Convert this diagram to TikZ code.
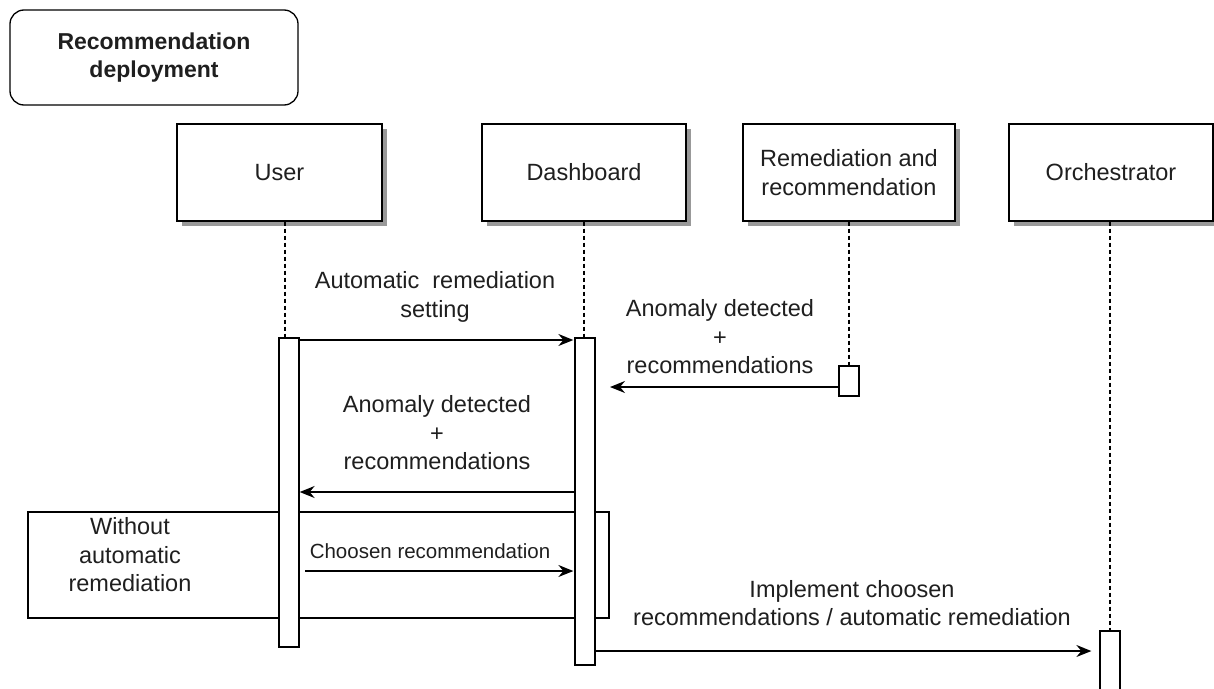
\documentclass[tikz,border=0pt]{standalone}
\usepackage{fontspec}
\setmainfont{Liberation Sans}
\usetikzlibrary{arrows.meta}
\begin{document}
\begin{tikzpicture}[x=1pt,y=-1pt,
  every node/.style={font=\fontsize{23.5}{28.5}\selectfont, text=black!88, inner sep=0pt},
  titlebox/.style={draw, line width=1.3pt, rounded corners=14pt, minimum width=288pt, minimum height=95pt, align=center, font=\bfseries\fontsize{23}{28.5}\selectfont},
  hdr/.style={draw, line width=1.3pt, fill=white, minimum height=97pt, align=center},
  hdrshadow/.style={fill=black!40},
  lifeline/.style={line width=1.2pt, dash pattern=on 4pt off 3pt},
  act/.style={draw, line width=1.3pt, fill=white, minimum width=20pt},
  msg/.style={line width=1.4pt, -{Stealth[length=15pt, width=12pt, inset=5pt]}},
  lbl/.style={align=center},
  framebox/.style={draw, line width=1.3pt}
]
\useasboundingbox (0,0) rectangle (1214,688);

% title
\node[titlebox] (title) at (154,57.5) {Recommendation\\deployment};

% shadows behind the participant boxes
\fill[hdrshadow] (182,129) rectangle (387,226);
\fill[hdrshadow] (487,129) rectangle (691,226);
\fill[hdrshadow] (748,129) rectangle (960,226);
\fill[hdrshadow] (1014,129) rectangle (1218,226);

% participants
\node[hdr, minimum width=205pt] (user) at (279.5,172.5) {User};
\node[hdr, minimum width=204pt] (dash) at (584,172.5) {Dashboard};
\node[hdr, minimum width=212pt] (remed) at (849,172.5) {Remediation and\\recommendation};
\node[hdr, minimum width=204pt] (orch) at (1111,172.5) {Orchestrator};

% combined fragment
\node[framebox, minimum width=581pt, minimum height=106pt] (frag) at (318.5,565) {};
\node[lbl] (fraglbl) at (130,555) {Without\\automatic\\remediation};

% lifelines
\coordinate (ul) at (285,338);
\coordinate (dl) at (584,338);
\coordinate (rl) at (849,366);
\coordinate (ol) at (1110,631);
\draw[lifeline] (user.south -| ul) -- (ul);
\draw[lifeline] (dash.south -| dl) -- (dl);
\draw[lifeline] (remed.south -| rl) -- (rl);
\draw[lifeline] (orch.south -| ol) -- (ol);

% activations
\node[act, minimum height=309pt] (uact) at (289,492.5) {};
\node[act, minimum height=327pt] (dact) at (585,501.5) {};
\node[act, minimum height=30pt] (ract) at (849,381) {};
\node[act, minimum height=80pt] (oact) at (1110,671) {};

% message rows
\coordinate (y1) at (0,340);
\coordinate (y2) at (0,387);
\coordinate (y3) at (0,492);
\coordinate (y4) at (0,571);
\coordinate (y5) at (0,651);
\coordinate (a2tip) at (610,387);
\coordinate (a4start) at (305,571);

\draw[msg, shorten >=1pt] (uact.east |- y1) -- (dact.west |- y1);
\draw[msg] (ract.west |- y2) -- (a2tip);
\draw[msg] (dact.west |- y3) -- (uact.east |- y3);
\draw[msg, shorten >=1pt] (a4start) -- (dact.west |- y4);
\draw[msg, shorten >=8pt] (dact.east |- y5) -- (oact.west |- y5);

% message labels
\node[lbl] (l1) at (435,297) {Automatic\ \ remediation\\setting};
\node[lbl] (l2) at (720,337) {Anomaly detected\\+\\recommendations};
\node[lbl] (l3) at (437,433) {Anomaly detected\\+\\recommendations};
\node[lbl, font=\fontsize{20.5}{24}\selectfont] (l4) at (430,551) {Choosen recommendation};
\node[lbl] (l5) at (852,603) {Implement choosen\\recommendations / automatic remediation};
\end{tikzpicture}
\end{document}
